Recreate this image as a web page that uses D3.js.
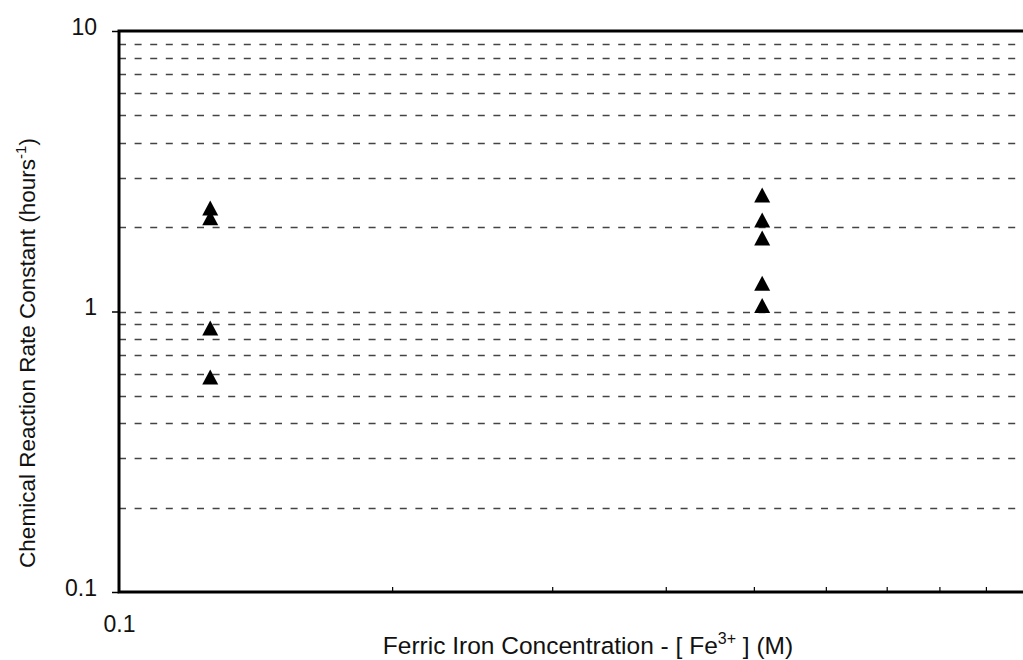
<!DOCTYPE html>
<html><head><meta charset="utf-8">
<script src="https://cdn.jsdelivr.net/npm/d3@7"></script>
<style>body{margin:0;background:#fff}svg{display:block}text{font-family:"Liberation Sans",Arial,sans-serif;fill:#111}</style>
</head><body>
<svg id="c" width="1023" height="660"></svg>
<script>
const concentration = [0.126, 0.126, 0.126, 0.126, 0.51, 0.51, 0.51, 0.51, 0.51];
const rateConstant = [2.34, 2.16, 0.873, 0.584, 2.60, 2.12, 1.83, 1.26, 1.05];
const yTickLabels = [10, 1, 0.1];
const xTickLabels = [0.1];
const gridValues = [0.2,0.3,0.4,0.5,0.6,0.7,0.8,0.9,1,2,3,4,5,6,7,8,9];
const xMinorTicks = [0.2,0.3,0.4,0.5,0.6,0.7,0.8,0.9];

const svg = d3.select("#c");
const L = 119, R = 1028, T = 31, B = 592;
const x = d3.scaleLog().domain([0.1, 1]).range([L, R]);
const y = d3.scaleLog().domain([0.1, 10]).range([B, T]);

// grid
svg.append("g").selectAll("line").data(gridValues).join("line")
  .attr("x1", L).attr("x2", R)
  .attr("y1", d => Math.round(y(d)) + 0.5).attr("y2", d => Math.round(y(d)) + 0.5)
  .attr("stroke", "#444").attr("stroke-width", 1.4).attr("stroke-dasharray", "7,8.6");

// frame
svg.append("rect").attr("x", L).attr("y", T).attr("width", R - L).attr("height", B - T)
  .attr("fill", "none").attr("stroke", "#000").attr("stroke-width", 3);

// y axis ticks + labels
const yAxis = d3.axisLeft(y).tickValues(yTickLabels).tickSize(7).tickPadding(15)
  .tickFormat(d => String(d));
const gy = svg.append("g").attr("transform", `translate(${L},0)`).call(yAxis);
gy.select(".domain").remove();
gy.selectAll(".tick line").attr("stroke", "#000").attr("stroke-width", 1.5);
gy.selectAll(".tick text").attr("font-size", 23).attr("dy", "0.15em")
  .style("font-family", '"Liberation Sans",Arial,sans-serif').attr("fill", "#111");

// x axis: inward minor ticks + label
const xAxis = d3.axisBottom(x).tickValues(xTickLabels).tickSize(0).tickPadding(24)
  .tickFormat(d => String(d));
const gx = svg.append("g").attr("transform", `translate(0,${B})`).call(xAxis);
gx.select(".domain").remove();
gx.selectAll(".tick text").attr("font-size", 23)
  .style("font-family", '"Liberation Sans",Arial,sans-serif').attr("fill", "#111");
svg.append("g").selectAll("line").data(xMinorTicks).join("line")
  .attr("x1", d => x(d)).attr("x2", d => x(d)).attr("y1", B).attr("y2", B - 5)
  .attr("stroke", "#000").attr("stroke-width", 1.2);

// points (triangles)
const tw = 16, th = 15;
svg.append("g").selectAll("path").data(concentration.map((c, i) => [c, rateConstant[i]])).join("path")
  .attr("d", d => {
    const cx = x(d[0]), cy = y(d[1]);
    return `M${cx},${cy - th / 2}L${cx + tw / 2},${cy + th / 2}L${cx - tw / 2},${cy + th / 2}Z`;
  })
  .attr("fill", "#000");

// axis titles
const xt = svg.append("text").attr("x", 588).attr("y", 654).attr("text-anchor", "middle").attr("font-size", 24.5);
xt.append("tspan").text("Ferric Iron Concentration - [ Fe");
xt.append("tspan").attr("dy", -10).attr("font-size", 16).text("3+");
xt.append("tspan").attr("dy", 10).text(" ] (M)");

const yt = svg.append("text").attr("transform", "translate(35,353) rotate(-90)")
  .attr("text-anchor", "middle").attr("font-size", 22.5);
yt.append("tspan").text("Chemical Reaction Rate Constant (hours");
yt.append("tspan").attr("dy", -9).attr("font-size", 15).text("-1");
yt.append("tspan").attr("dy", 9).text(")");
</script>
</body></html>
